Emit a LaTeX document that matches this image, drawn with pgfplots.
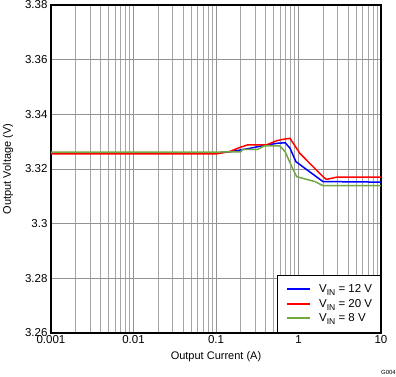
\documentclass[border=0pt]{standalone}
\usepackage{pgfplots}
\pgfplotsset{compat=1.18}
\usepackage{fontspec}
\setmainfont{Liberation Sans}
\definecolor{lblue}{RGB}{0,0,255}
\definecolor{lred}{RGB}{255,0,0}
\definecolor{lgreen}{RGB}{112,168,66}
\newcommand{\vin}{V\raisebox{-0.35ex}{\fontsize{8.5}{9}\selectfont IN}}
\begin{document}
\begin{tikzpicture}
\useasboundingbox (-51pt,-44pt) rectangle (345pt,333pt);
\begin{axis}[
  at={(0pt,0pt)}, anchor=south west,
  scale only axis, width=330pt, height=328pt,
  xmode=log, xmin=0.001, xmax=10, ymin=3.26, ymax=3.38,
  xtick={0.001,0.01,0.1,1,10},
  xticklabels={0.001,0.01,0.1,1,10},
  ytick={3.26,3.28,3.30,3.32,3.34,3.36,3.38},
  yticklabels={3.26,3.28,3.3,3.32,3.34,3.36,3.38},
  grid=both,
  major grid style={gray!85, line width=0.8pt},
  minor grid style={gray!70, line width=0.8pt},
  axis line style={black, line width=1.2pt},
  tick style={draw=none},
  every tick label/.style={font=\fontsize{11.5}{13}\selectfont},
  xticklabel style={yshift=1pt},
  label style={font=\fontsize{11}{13}\selectfont},
  xlabel={Output Current (A)},
  ylabel={Output Voltage (V)},
  xlabel style={at={(axis description cs:0.5,-0.073)}, anchor=center},
  ylabel style={at={(axis description cs:-0.13,0.5)}, anchor=center},
]
\addplot[color=lblue, line width=1.5pt] coordinates {(0.001,3.3258)(0.1,3.3258)(0.15,3.3263)(0.26,3.3276)(0.41,3.3288)(0.55,3.3294)(0.69,3.3296)(0.79,3.3276)(0.93,3.3227)(1.13,3.3208)(1.98,3.3154)(10,3.3152)};
\addplot[color=lred, line width=1.5pt] coordinates {(0.001,3.3255)(0.1,3.3255)(0.15,3.3265)(0.195,3.3279)(0.24,3.3288)(0.41,3.3288)(0.55,3.3304)(0.69,3.3310)(0.79,3.3312)(1.04,3.3257)(1.98,3.3172)(2.18,3.3162)(2.9,3.3170)(10,3.3170)};
\addplot[color=lgreen, line width=1.5pt] coordinates {(0.001,3.3262)(0.1,3.3262)(0.2,3.3263)(0.21,3.3272)(0.32,3.3272)(0.39,3.3285)(0.59,3.3285)(0.69,3.3263)(0.83,3.3208)(0.95,3.3172)(1.58,3.3154)(1.98,3.3139)(10,3.3139)};
\end{axis}
% legend
\fill[white] (226pt,0pt) rectangle (330pt,58pt);
\draw[black, line width=0.8pt] (226pt,0pt) rectangle (330pt,58pt);
\fill[lblue] (236pt,43.3pt) rectangle (259pt,44.7pt);
\fill[lred] (236pt,28.3pt) rectangle (259pt,29.7pt);
\fill[lgreen] (236pt,14.3pt) rectangle (259pt,15.7pt);
\node[anchor=base west, inner sep=0pt, font=\fontsize{11.5}{13}\selectfont, text=black] at (268pt,40pt) {\vin{} = 12 V};
\node[anchor=base west, inner sep=0pt, font=\fontsize{11.5}{13}\selectfont, text=black] at (268pt,25pt) {\vin{} = 20 V};
\node[anchor=base west, inner sep=0pt, font=\fontsize{11.5}{13}\selectfont, text=black] at (268pt,11pt) {\vin{} = 8 V};
\draw[black, line width=1.2pt] (226pt,0pt) -- (330pt,0pt) -- (330pt,58pt);
\node[anchor=south east, inner sep=0pt, font=\fontsize{6}{7}\selectfont] at (345pt,-42pt) {G004};
\end{tikzpicture}
\end{document}
